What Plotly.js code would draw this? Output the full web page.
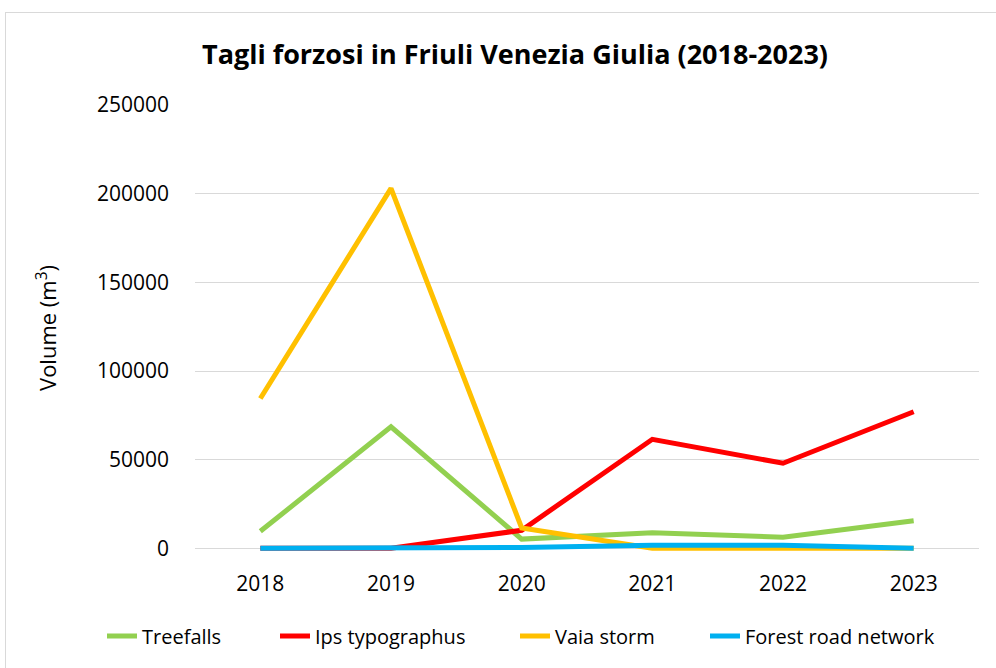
<!DOCTYPE html>
<html>
<head>
<meta charset="utf-8">
<script src="https://cdn.plot.ly/plotly-3.0.1.min.js"></script>
<style>
html,body{margin:0;padding:0;background:#fff;}
#frame{position:absolute;left:5px;top:12px;width:1100px;height:800px;border:1px solid #d9d9d9;box-sizing:border-box;}
#chart{position:absolute;left:0;top:0;width:996px;height:668px;}
</style>
</head>
<body>
<div id="frame"></div>
<div id="chart"></div>
<script>
const years = [2018, 2019, 2020, 2021, 2022, 2023];
const treefalls = [9600, 68500, 5200, 8800, 6300, 15500];
const ipsTypographus = [0, 0, 10200, 61500, 48000, 77000];
const vaiaStorm = [84500, 203000, 11500, 0, 0, 0];
const forestRoad = [0, 0, 500, 1700, 1700, 0];
const seriesNames = ["Treefalls", "Ips typographus", "Vaia storm", "Forest road network"];
const seriesColors = ["#92D050", "#FF0000", "#FFC000", "#00B0F0"];
const seriesValues = [treefalls, ipsTypographus, vaiaStorm, forestRoad];
const yTicks = [0, 50000, 100000, 150000, 200000, 250000];

const FONT = "Open Sans, Noto Sans, sans-serif";
const legendIds = ["legend", "legend2", "legend3", "legend4"];
const legendX = [102, 275, 515, 705];

const traces = seriesValues.map((vals, i) => ({
  type: "scatter",
  mode: "lines",
  x: years,
  y: vals,
  name: seriesNames[i],
  legend: legendIds[i],
  line: {color: seriesColors[i], width: 5},
  hoverinfo: "x+y+name"
}));

const layout = {
  width: 996,
  height: 668,
  paper_bgcolor: "rgba(0,0,0,0)",
  plot_bgcolor: "rgba(0,0,0,0)",
  margin: {l: 195, r: 17, t: 105, b: 117},
  font: {family: FONT, color: "#000", size: 21},
  title: {
    text: "<b>Tagli forzosi in Friuli Venezia Giulia (2018-2023)</b>",
    font: {family: FONT, size: 27, color: "#000"},
    xref: "container", yref: "container",
    x: 515 / 996, xanchor: "center",
    y: 1 - 55 / 668, yanchor: "middle"
  },
  xaxis: {
    type: "linear",
    range: [2017.5, 2023.5],
    tickvals: years,
    ticktext: years.map(String),
    showgrid: false,
    zeroline: false,
    showline: false,
    ticks: "outside",
    ticklen: 14,
    tickcolor: "rgba(0,0,0,0)",
    tickfont: {family: FONT, size: 21, color: "#000"},
    fixedrange: true
  },
  yaxis: {
    range: [-1500, 250000],
    tickvals: yTicks,
    ticktext: yTicks.map(String),
    showgrid: true,
    gridcolor: "#d9d9d9",
    gridwidth: 1,
    zeroline: false,
    showline: false,
    ticks: "",
    ticklabelstandoff: 25,
    tickfont: {family: FONT, size: 21, color: "#000"},
    title: {text: "Volume (m<sup>3</sup>)", font: {family: FONT, size: 22, color: "#000"}, standoff: 34},
    fixedrange: true
  },
  showlegend: true
};

legendIds.forEach((id, i) => {
  layout[id] = {
    orientation: "h",
    xref: "container", yref: "container",
    x: legendX[i] / 996, xanchor: "left",
    y: 1 - 636 / 668, yanchor: "middle",
    font: {family: FONT, size: 20, color: "#000"},
    itemwidth: 30,
    bgcolor: "rgba(0,0,0,0)"
  };
});

Plotly.newPlot("chart", traces, layout, {displayModeBar: false, staticPlot: false});
</script>
</body>
</html>
